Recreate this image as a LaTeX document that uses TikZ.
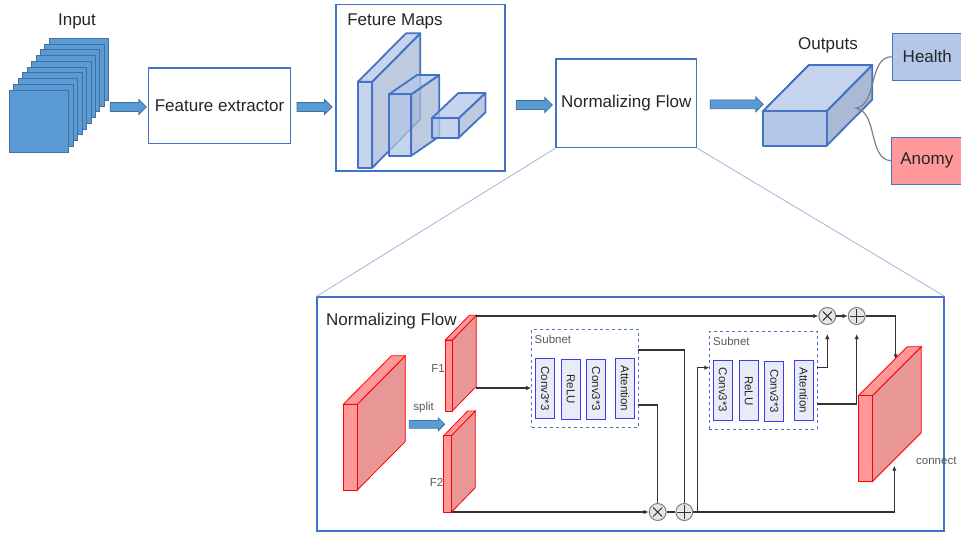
\documentclass[tikz,border=0pt]{standalone}
\usepackage{fontspec}
\setmainfont{Liberation Sans}
\usepackage{xcolor}
\usepackage{tikz}
\usetikzlibrary{shapes.arrows,arrows.meta}

\definecolor{inblue}{HTML}{5B9BD5}
\definecolor{inedge}{HTML}{41719C}
\definecolor{boxedge}{HTML}{4472C4}
\definecolor{mapfill}{HTML}{B4C7E7}
\definecolor{mapside}{HTML}{A9B9D6}
\definecolor{maptop}{HTML}{C5D3EC}
\definecolor{redfront}{HTML}{FF9999}
\definecolor{redside}{HTML}{E99696}
\definecolor{layerfill}{HTML}{E8ECF8}
\definecolor{layeredge}{HTML}{3C3CF0}
\definecolor{opfill}{HTML}{E7E6E6}
\definecolor{opedge}{HTML}{7F7F7F}
\definecolor{txt}{HTML}{262626}
\definecolor{softtxt}{HTML}{595959}
\definecolor{zoomline}{HTML}{A4B3D8}
\definecolor{wirecol}{HTML}{333333}

% #1 style, #2-#5 front face, #6-#7 depth, #8 front/top fill, #9 side fill
\newcommand{\cuboid}[9]{%
  \filldraw[#1, fill=#9] (#4,#3) -- ++(#6,#7) -- ++(0,{#5-#3}) -- (#4,#5) -- cycle;
  \filldraw[#1, fill=#8] (#2,#3) -- ++(#6,#7) -- ++({#4-#2},0) -- (#4,#3) -- cycle;
  \filldraw[#1, fill=#8] (#2,#3) rectangle (#4,#5);
}

\begin{document}
\begin{tikzpicture}[x=1pt, y=-1pt, font=\fontsize{17}{20}\selectfont, text=txt,
  box/.style={draw=boxedge, line width=1.2pt, fill=white, inner sep=1pt},
  blockarrow/.style={single arrow, draw=inedge, fill=inblue, line width=0.8pt,
    inner sep=0pt, text height=8pt, text depth=0pt, single arrow head extend=3pt,
    minimum height=#1},
  blockarrow/.default=36pt,
  insheet/.style={draw=inedge, fill=inblue, line width=0.8pt},
  mapcube/.style={draw=boxedge, line width=1.8pt, fill opacity=0.75, line join=round},
  redslab/.style={draw=red, line width=0.8pt},
  outcls/.style={draw=#1, line width=1.2pt, inner sep=1pt, minimum height=47pt},
  subnetbox/.style={draw=boxedge, dashed, line width=1pt},
  netlayer/.style={rotate=-90, draw=layeredge, fill=layerfill, line width=1pt,
    minimum width=60pt, minimum height=18.7pt, inner sep=0pt,
    font=\fontsize{11.5}{12}\selectfont},
  smalltxt/.style={text=softtxt, font=\fontsize{11.5}{12}\selectfont, inner sep=0pt},
  opnode/.style={circle, draw=opedge, fill=opfill, line width=1pt, minimum size=17pt, inner sep=0pt},
  mulop/.style={opnode, path picture={
    \draw[wirecol, line width=1pt]
      ([shift={(-4.5,-4.5)}]path picture bounding box.center) -- ([shift={(4.5,4.5)}]path picture bounding box.center)
      ([shift={(-4.5,4.5)}]path picture bounding box.center) -- ([shift={(4.5,-4.5)}]path picture bounding box.center);}},
  addop/.style={opnode, path picture={
    \draw[wirecol, line width=1pt]
      ([shift={(-7,0)}]path picture bounding box.center) -- ([shift={(7,0)}]path picture bounding box.center)
      ([shift={(0,-7)}]path picture bounding box.center) -- ([shift={(0,7)}]path picture bounding box.center);}},
  wire/.style={draw=wirecol, line width=1.1pt},
  conn/.style={wire, -{Latex[length=5pt,width=4.5pt]}},
  zoomln/.style={draw=zoomline, line width=0.8pt}
]
\useasboundingbox (0,0) rectangle (961,533);

% Input stack
\foreach \i in {9,...,0}
  \filldraw[insheet] ({9.3+4.44*\i},{90-5.75*\i}) rectangle ++(59.4,62);
\node (intxt) at (77,21) {Input};

% Top pipeline
\node[blockarrow] (a1) at (126,107) {};
\node[box, minimum width=141.7pt, minimum height=75.7pt] (fext) at (219.5,105.8) {Feature extractor};
\node[blockarrow=35pt] (a2) at (312.3,107) {};
\node[box, minimum width=169pt, minimum height=166.3pt] (fmaps) at (420.5,87.8) {};
\node (fmtxt) at (395,21.7) {Feture Maps};
\cuboid{mapcube}{358}{81.7}{372.3}{167.7}{48}{-48.4}{mapfill}{mapside}
\cuboid{mapcube}{389}{94.3}{411.3}{155.7}{28}{-19.3}{mapfill}{mapside}
\cuboid{mapcube}{431.7}{118.3}{458.7}{137.7}{26.7}{-25.3}{mapfill}{mapside}
\node[blockarrow] (a3) at (532,105) {};
\node[box, minimum width=140.7pt, minimum height=88.7pt] (nfbox) at (626.3,103.3) {Normalizing Flow};
\node[blockarrow=53pt] (a4) at (734.5,104.3) {};

% Outputs
\cuboid{draw=boxedge, line width=1.8pt, line join=round}{763.3}{111}{826.7}{145.7}{45.5}{-46}{mapfill}{mapside}
\fill[maptop] (764.8,110) -- (809.3,66.3) -- (871,66.3) -- (826,110) -- cycle;
\draw[draw=boxedge, line width=1.8pt, line join=round] (763.3,111) -- (808.8,65) -- (872.2,65) -- (826.7,111) -- cycle;
\node (outtxt) at (828,45) {Outputs};
\coordinate (outpt) at (856,108.3);
\node[outcls=boxedge, fill=mapfill, minimum width=70pt] (health) at (927.3,56.7) {Health};
\node[outcls=boxedge, fill=redfront, minimum width=70pt] (anomy) at (926.8,160.7) {Anomy};
\draw[opedge, line width=1.2pt] (health.west) .. controls (868,57) and (878,104) .. (outpt)
  .. controls (878,112) and (868,160) .. (anomy.west);

% Detail of the flow
\node[box, fill=none, minimum width=627pt, minimum height=234pt] (nfbig) at (630.5,414) {};
\draw[zoomln] (nfbox.south west) -- (nfbig.north west);
\draw[zoomln] (nfbox.south east) -- (nfbig.north east);
\node[anchor=west, inner sep=0pt] (nftxt) at (326,320.7) {Normalizing Flow};

\cuboid{redslab}{343.3}{404.3}{357.3}{490}{48}{-48.5}{redfront}{redside}
\node[blockarrow=35.4pt, text height=7pt, single arrow head extend=2.6pt] (asplit) at (425,424.3) {};
\node[smalltxt] (splittxt) at (423.7,407.3) {split};
\cuboid{redslab}{445.3}{340}{452.3}{411}{24}{-24.7}{redfront}{redside}
\cuboid{redslab}{443.7}{435.7}{451.3}{512.3}{24}{-24.7}{redfront}{redside}
\node[smalltxt, anchor=east] (f1txt) at (445,368.3) {F1};
\node[smalltxt, anchor=east] (f2txt) at (443.5,482.7) {F2};

% Subnets
\node[subnetbox, minimum width=106.6pt, minimum height=97.7pt] (sn1) at (585,378.2) {};
\node[smalltxt, anchor=west] (sn1txt) at (534.5,339.3) {Subnet};
\node[netlayer] (c11) at (545,388.5) {Conv3*3};
\node[netlayer] (r1) at (570.7,389) {ReLU};
\node[netlayer] (c12) at (596,389) {Conv3*3};
\node[netlayer] (at1) at (625,388.5) {Attention};

\node[subnetbox, minimum width=107.7pt, minimum height=98pt] (sn2) at (763.2,380.3) {};
\node[smalltxt, anchor=west] (sn2txt) at (713,341) {Subnet};
\node[netlayer] (c21) at (722.8,390) {Conv3*3};
\node[netlayer] (r2) at (748.8,390.7) {ReLU};
\node[netlayer] (c22) at (774.2,391.2) {Conv3*3};
\node[netlayer] (at2) at (803.8,390.5) {Attention};

% Coupling operations
\node[mulop] (mulA) at (657.7,512) {};
\node[addop] (addA) at (684.3,512) {};
\node[mulop] (mulB) at (827.3,316) {};
\node[addop] (addB) at (856.7,316) {};

\coordinate (f1t) at (476.3,316);
\coordinate (f1m) at (476.3,388);
\coordinate (f2b) at (451.3,512);
\coordinate (s1a) at (638.3,350);
\coordinate (s1b) at (638.3,405);
\coordinate (s2in) at (709.3,367.7);
\coordinate (s2a) at (817,367.7);
\coordinate (s2b) at (817,404);
\coordinate (br) at (697.7,512);
\coordinate (cntop) at (895.7,359.3);
\coordinate (cnbot) at (894.3,465.7);

\draw[conn] (f1t) -- (mulB.west);
\draw[conn] (f1m) -- (f1m -| sn1.west);
\draw[wire] (s1a) -| (addA.north);
\draw[wire] (s1b) -| (mulA.north);
\draw[conn] (f2b) -- (mulA.west);
\draw[wire] (mulA) -- (addA);
\draw[conn] (addA.east) -| (cnbot);
\draw[conn] (br) |- (s2in);
\draw[conn, shorten >=9pt] (s2a) -| (mulB.south);
\draw[conn, shorten >=9pt] (s2b) -| (addB.south);
\draw[conn] (mulB) -- (addB);
\draw[conn] (addB.east) -| (cntop);

% Connect
\cuboid{redslab}{858.3}{395.7}{872.3}{481.7}{49}{-49}{redfront}{redside}
\node[smalltxt, anchor=west] (cntxt) at (916,461) {connect};
\end{tikzpicture}
\end{document}
